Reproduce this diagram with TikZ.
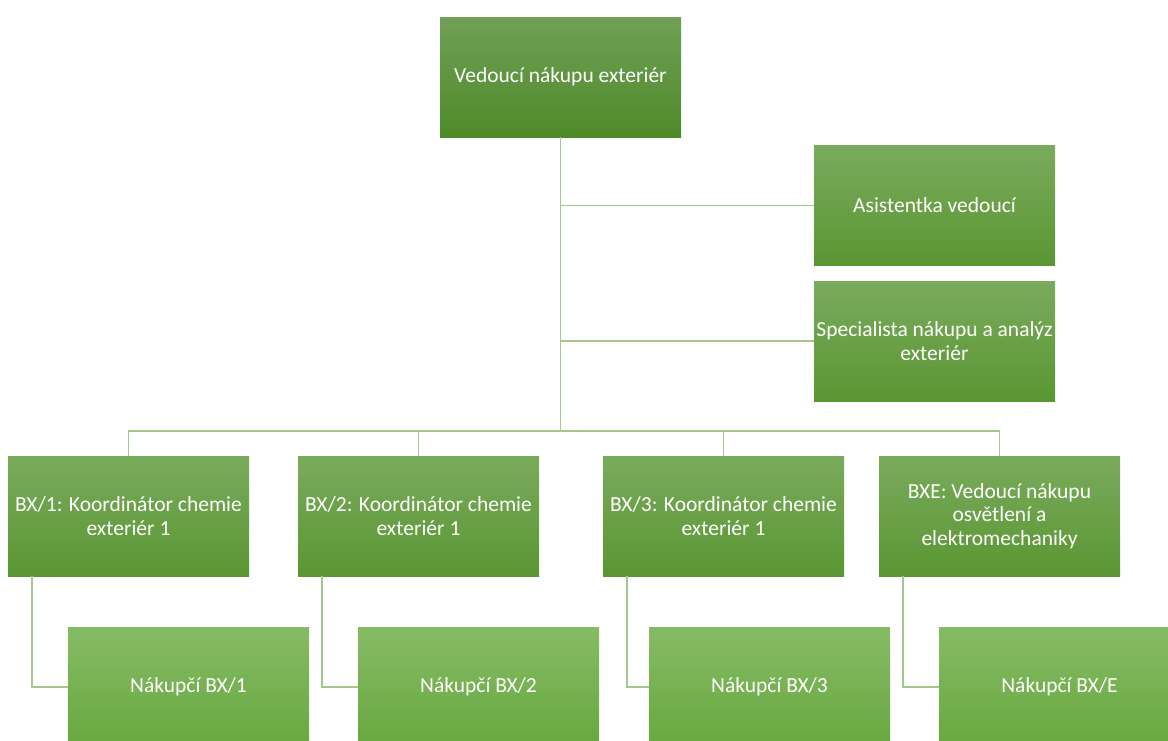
\documentclass[tikz,border=0pt]{standalone}
\usepackage{fontspec}
\setmainfont{Carlito}
\definecolor{topA}{HTML}{70A057}
\definecolor{topB}{HTML}{4E8A29}
\definecolor{midA}{HTML}{7AAB5D}
\definecolor{midB}{HTML}{5A9632}
\definecolor{lowA}{HTML}{86BB66}
\definecolor{lowB}{HTML}{68A83F}
\definecolor{lineC}{HTML}{A3C78D}
\begin{document}
\begin{tikzpicture}[x=1pt,y=-1pt,
  box/.style={rectangle, minimum width=241pt, minimum height=120pt, inner sep=1pt,
    text=white, align=center, font=\fontsize{21.5}{23.5}\selectfont},
  topbox/.style={box, top color=topA, bottom color=topB},
  midbox/.style={box, top color=midA, bottom color=midB},
  lowbox/.style={box, top color=lowA, bottom color=lowB},
  conn/.style={draw=lineC, line width=1.5pt}]
\useasboundingbox (0,0) rectangle (1168,740);
\clip (0,0) rectangle (1168,740);
\node[topbox] (top) at (560.5,77) {Vedoucí nákupu exteriér};
\node[midbox] (asst) at (934.5,205.5) {Asistentka vedoucí};
\node[midbox] (spec) at (934.5,341) {Specialista nákupu a analýz\\exteriér};
\node[midbox] (l1a) at (128.5,516) {BX/1: Koordinátor chemie\\exteriér 1};
\node[midbox] (l1b) at (418.5,516) {BX/2: Koordinátor chemie\\exteriér 1};
\node[midbox] (l1c) at (723.5,516) {BX/3: Koordinátor chemie\\exteriér 1};
\node[midbox] (l1d) at (999.5,516) {BXE: Vedoucí nákupu\\osvětlení a\\elektromechaniky};
\node[lowbox] (l2a) at (188.5,687) {Nákupčí BX/1};
\node[lowbox] (l2b) at (478.5,687) {Nákupčí BX/2};
\node[lowbox] (l2c) at (769.5,687) {Nákupčí BX/3};
\node[lowbox] (l2d) at (1059.5,687) {Nákupčí BX/E};
\coordinate (bus) at (0,431);
\draw[conn] (top.south) -- (top.south |- bus);
\draw[conn] (top.south |- asst.west) -- (asst.west);
\draw[conn] (top.south |- spec.west) -- (spec.west);
\draw[conn] (l1a.north) -- (l1a.north |- bus) -- (l1d.north |- bus) -- (l1d.north);
\draw[conn] (l1b.north) -- (l1b.north |- bus);
\draw[conn] (l1c.north) -- (l1c.north |- bus);
\draw[conn] ([xshift=24pt]l1a.south west) |- (l2a.west);
\draw[conn] ([xshift=24pt]l1b.south west) |- (l2b.west);
\draw[conn] ([xshift=24pt]l1c.south west) |- (l2c.west);
\draw[conn] ([xshift=24pt]l1d.south west) |- (l2d.west);
\end{tikzpicture}
\end{document}
